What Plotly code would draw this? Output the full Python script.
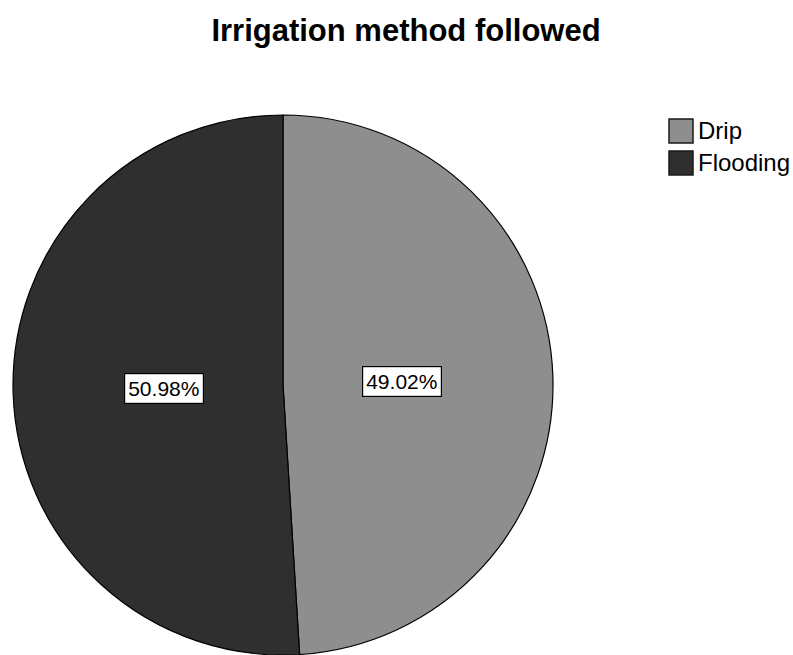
import math
import plotly.graph_objects as go

# Irrigation survey shares
methods = ["Drip", "Flooding"]
shares = [49.02, 50.98]
colors = ["#8e8e8e", "#2f2f2f"]

W, H = 793, 655
# pie placement in pixels (left, right, top, bottom)
pie_left, pie_right, pie_top, pie_bottom = 12, 554, 115, 657

fig = go.Figure(
    go.Pie(
        labels=methods,
        values=shares,
        marker=dict(colors=colors, line=dict(color="#000000", width=1.2)),
        sort=False,
        direction="clockwise",
        rotation=0,
        textinfo="none",
        hoverinfo="label+percent",
        showlegend=False,
        domain=dict(
            x=[pie_left / W, pie_right / W],
            y=[0, (H - pie_top) / H],
        ),
    )
)

# Percentage labels placed along each slice's mid-angle
cx = (pie_left + pie_right) / 2
r = min(pie_right - pie_left, H - pie_top) / 2
cy_up = H - pie_top - r
total = sum(shares)
start = 0.0
annotations = []
for name, v in zip(methods, shares):
    mid = (start + v / 2) / total * 2 * math.pi
    start += v
    px = cx + 0.44 * r * math.sin(mid)
    py = cy_up + 0.44 * r * math.cos(mid)
    annotations.append(
        dict(
            x=px / W, y=py / H, xref="paper", yref="paper",
            text=f"{v / total * 100:.2f}%", showarrow=False,
            font=dict(family="Liberation Sans, Arial", size=21, color="#000000"),
            bgcolor="#ffffff", bordercolor="#000000", borderwidth=1.2, borderpad=3,
            xanchor="center", yanchor="middle",
        )
    )

# Legend drawn as swatches with labels
shapes = []
sw_x0, sw_size, sw_top, sw_step = 669, 24, 119, 32
for i, (name, c) in enumerate(zip(methods, colors)):
    y0 = sw_top + i * sw_step
    shapes.append(
        dict(
            type="rect", xref="paper", yref="paper",
            x0=sw_x0 / W, x1=(sw_x0 + sw_size) / W,
            y0=1 - (y0 + sw_size) / H, y1=1 - y0 / H,
            fillcolor=c, line=dict(color="#1a1a1a", width=1.5),
        )
    )
    annotations.append(
        dict(
            x=(sw_x0 + sw_size + 3) / W, y=1 - (y0 + sw_size / 2) / H,
            xref="paper", yref="paper", text=name, showarrow=False,
            font=dict(family="Liberation Sans, Arial", size=24, color="#000000"),
            xanchor="left", yanchor="middle",
        )
    )

fig.update_layout(
    width=W, height=H,
    margin=dict(l=0, r=0, t=0, b=0),
    paper_bgcolor="#ffffff",
    plot_bgcolor="#ffffff",
    title=dict(
        text="<b>Irrigation method followed</b>",
        x=406 / W, xanchor="center",
        y=1 - 30 / H, yanchor="middle", yref="container",
        font=dict(family="Liberation Sans, Arial", size=31, color="#000000"),
    ),
    annotations=annotations,
    shapes=shapes,
)

fig.write_html("out.html")
